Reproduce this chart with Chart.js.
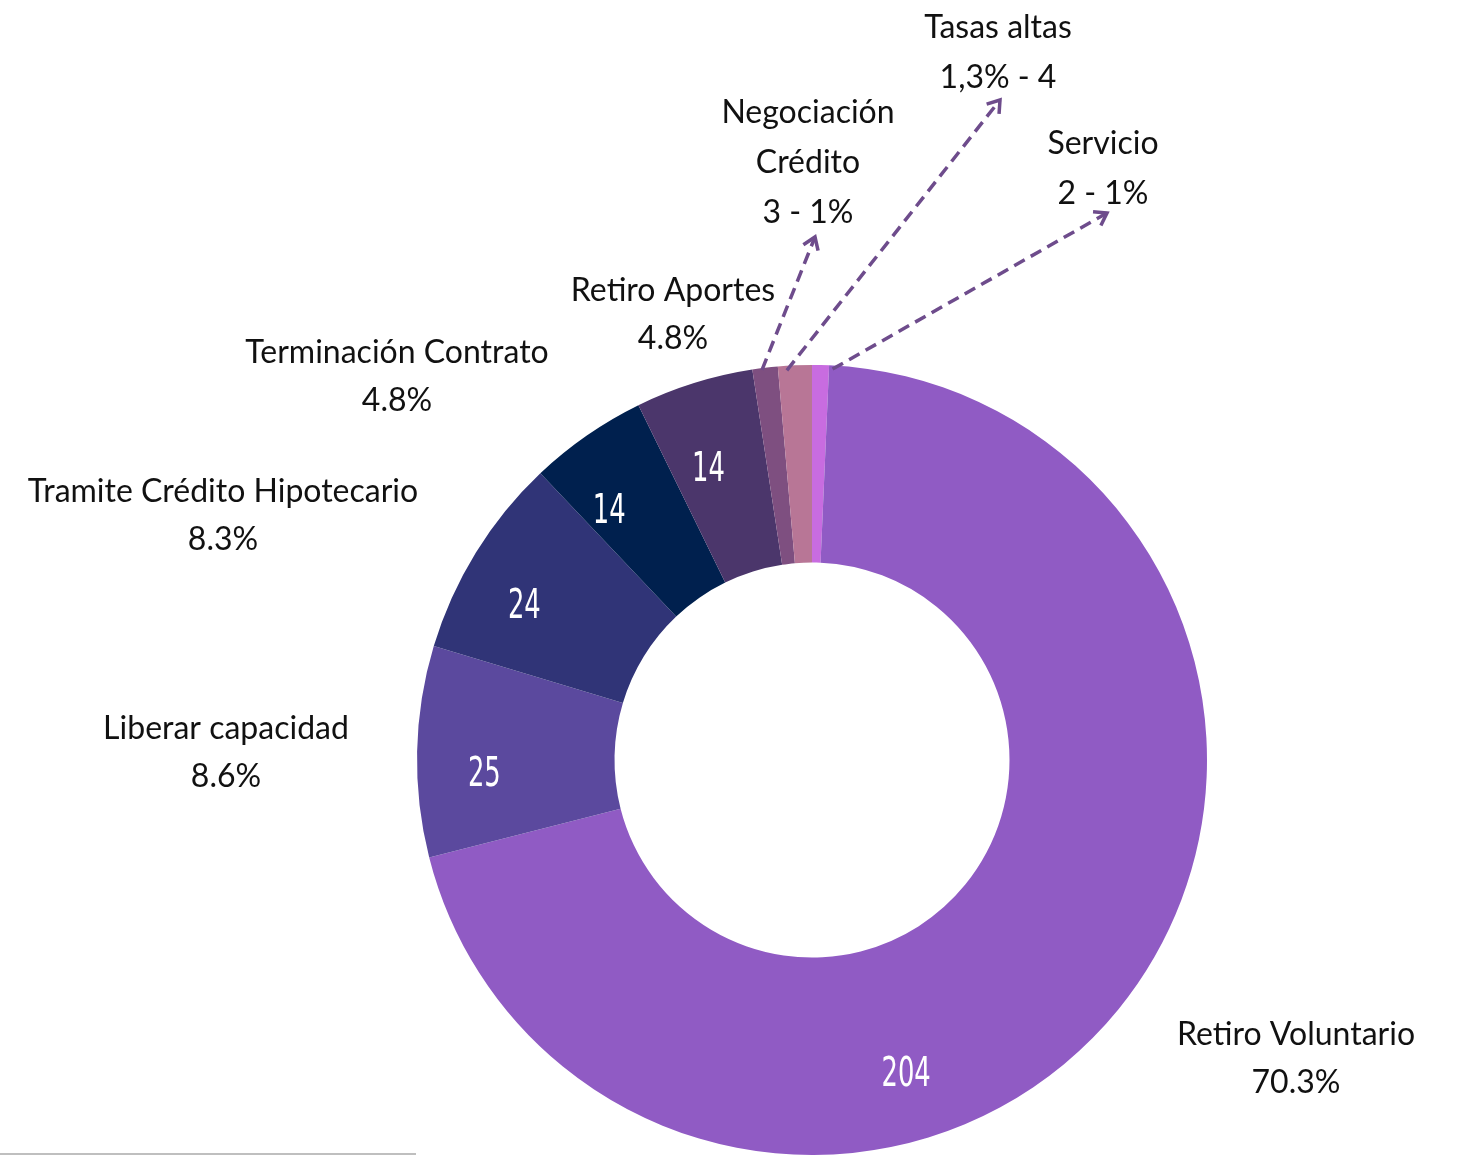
<!DOCTYPE html>
<html lang="es">
<head>
    <meta charset="UTF-8">
    <title>Motivos de retiro</title>
    <script src="https://cdn.jsdelivr.net/npm/chart.js"></script>
    <style>
        html, body { margin: 0; padding: 0; background: #ffffff; }
        .chart-container { width: 1461px; height: 1167px; position: relative; }
    </style>
</head>
<body>
    <div class="chart-container">
        <canvas id="myChart"></canvas>
    </div>

    <script>
        // data, clockwise from 12 o'clock
        const categories = ['Servicio', 'Retiro Voluntario', 'Liberar capacidad', 'Tramite Crédito Hipotecario',
            'Terminación Contrato', 'Retiro Aportes', 'Negociación Crédito', 'Tasas altas'];
        const values = [2, 204, 25, 24, 14, 14, 3, 4];
        // outer label text, as written on the chart
        const labelLines = [
            ['Servicio', '2 - 1%'],
            ['Retiro Voluntario', '70.3%'],
            ['Liberar capacidad', '8.6%'],
            ['Tramite Crédito Hipotecario', '8.3%'],
            ['Terminación Contrato', '4.8%'],
            ['Retiro Aportes', '4.8%'],
            ['Negociación', 'Crédito', '3 - 1%'],
            ['Tasas altas', '1,3% - 4']
        ];
        const showValue = [false, true, true, true, true, true, false, false];

        // styling / layout
        const colors = ['#c86ce0', '#905bc4', '#5b499e', '#303477', '#00204e', '#4b366b', '#7e4f80', '#b87696'];
        const labelPos = [[1103, 144], [1296, 1035], [226, 729], [223, 492], [397, 353], [673, 291], [808, 113], [998, 28]];
        const lineGap = [50, 48, 48, 48, 48, 48, 50, 50];
        const arrowTip = [[1107, 213], null, null, null, null, null, [815, 237], [1000, 100]];
        const arrowStartShift = [[12, 4], null, null, null, null, null, [-3, 2], [-8, 5]];
        const valueAngleShift = [0, 34, -3, -3, -4, -2, 0, 0];   // degrees, nudges inner numbers
        const valueRadius = [0, 0.64, 0.66, 0.66, 0.64, 0.58, 0, 0];
        const arrowColor = '#6e4c8c';

        const labelPlugin = {
            id: 'sliceLabels',
            afterDatasetsDraw(chart) {
                const ctx = chart.ctx;
                const meta = chart.getDatasetMeta(0);
                ctx.save();

                // inner values
                meta.data.forEach((arc, i) => {
                    if (!showValue[i]) return;
                    const p = arc.getProps(['x', 'y', 'startAngle', 'endAngle', 'innerRadius', 'outerRadius'], true);
                    const a = (p.startAngle + p.endAngle) / 2 + valueAngleShift[i] * Math.PI / 180;
                    const r = p.innerRadius + valueRadius[i] * (p.outerRadius - p.innerRadius);
                    const x = p.x + r * Math.cos(a);
                    const y = p.y + r * Math.sin(a) + 5;
                    ctx.save();
                    ctx.translate(x, y);
                    ctx.scale(0.7, 1);
                    ctx.fillStyle = '#ffffff';
                    ctx.font = '41px "DejaVu Sans Condensed", "Liberation Sans Narrow", sans-serif';
                    ctx.textAlign = 'center';
                    ctx.textBaseline = 'middle';
                    ctx.fillText(String(values[i]), 0, 0);
                    ctx.restore();
                });

                // arrows for the thin slices
                meta.data.forEach((arc, i) => {
                    if (!arrowTip[i]) return;
                    const p = arc.getProps(['x', 'y', 'startAngle', 'endAngle', 'outerRadius'], true);
                    const a = (p.startAngle + p.endAngle) / 2;
                    const r = p.outerRadius;
                    const x0 = p.x + r * Math.cos(a) + arrowStartShift[i][0];
                    const y0 = p.y + r * Math.sin(a) + arrowStartShift[i][1];
                    const [x1, y1] = arrowTip[i];
                    ctx.strokeStyle = arrowColor;
                    ctx.lineWidth = 3.5;
                    ctx.setLineDash([12, 7]);
                    ctx.beginPath();
                    ctx.moveTo(x0, y0);
                    ctx.lineTo(x1, y1);
                    ctx.stroke();
                    ctx.setLineDash([]);
                    const ang = Math.atan2(y1 - y0, x1 - x0);
                    const h = 14;
                    ctx.lineJoin = 'miter';
                    ctx.beginPath();
                    ctx.moveTo(x1 - h * Math.cos(ang - 0.6), y1 - h * Math.sin(ang - 0.6));
                    ctx.lineTo(x1, y1);
                    ctx.lineTo(x1 - h * Math.cos(ang + 0.6), y1 - h * Math.sin(ang + 0.6));
                    ctx.stroke();
                });

                // outer labels
                ctx.fillStyle = '#111111';
                ctx.font = '32px Lato, "Open Sans", sans-serif';
                ctx.textAlign = 'center';
                ctx.textBaseline = 'middle';
                labelLines.forEach((lines, i) => {
                    const [lx, ly] = labelPos[i];
                    lines.forEach((t, k) => ctx.fillText(t, lx, ly + k * lineGap[i]));
                });

                // footnote rule
                ctx.strokeStyle = '#bfbfbf';
                ctx.lineWidth = 2;
                ctx.beginPath();
                ctx.moveTo(0, 1154);
                ctx.lineTo(416, 1154);
                ctx.stroke();
                ctx.restore();
            }
        };

        const ctx = document.getElementById('myChart').getContext('2d');
        new Chart(ctx, {
            type: 'doughnut',
            data: {
                labels: categories,
                datasets: [{
                    data: values,
                    backgroundColor: colors,
                    borderWidth: 0
                }]
            },
            options: {
                responsive: true,
                maintainAspectRatio: false,
                animation: false,
                cutout: '50%',
                rotation: 0,
                layout: {
                    padding: { left: 417, right: 254, top: 365, bottom: 12 }
                },
                plugins: {
                    legend: { display: false },
                    tooltip: { enabled: false }
                }
            },
            plugins: [labelPlugin]
        });
    </script>
</body>
</html>
